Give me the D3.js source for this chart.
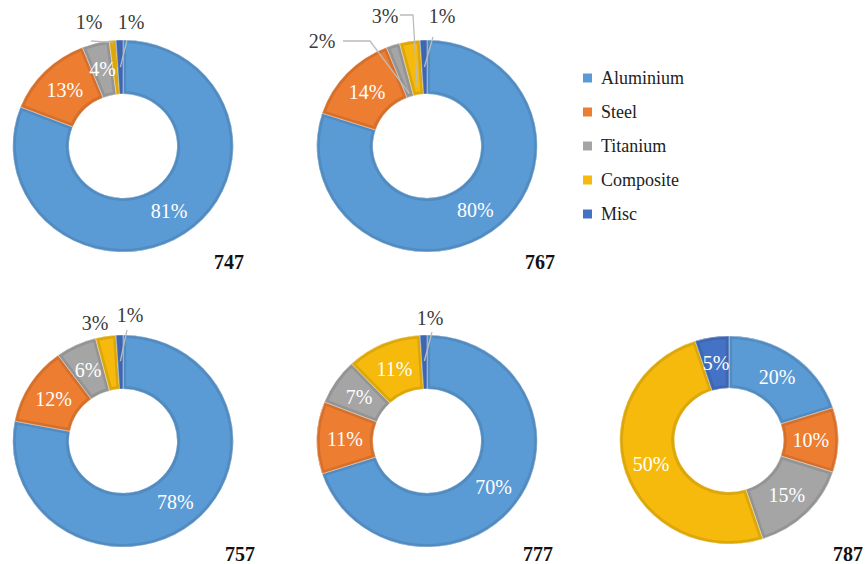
<!DOCTYPE html>
<html><head><meta charset="utf-8">
<script src="https://cdn.jsdelivr.net/npm/d3@7/dist/d3.min.js"></script>
<style>body{margin:0;background:#fff}svg{display:block}</style>
</head><body>
<svg id="c" width="867" height="564"></svg>
<script>
// ---- data ----
const categories = ["Aluminium", "Steel", "Titanium", "Composite", "Misc"];
const planes = ["747", "767", "757", "777", "787"];
const values747 = [81, 13, 4, 1, 1];
const values767 = [80, 14, 2, 3, 1];
const values757 = [78, 12, 6, 3, 1];
const values777 = [70, 11, 7, 11, 1];
const values787 = [20, 10, 15, 50, 5];
const seriesValues = [values747, values767, values757, values777, values787];
const colors = ["#5B9BD5", "#ED7D31", "#A5A5A5", "#F5BA0C", "#4472C4"];

// ---- layout (positions only) ----
const layout = [
  {cx:123, cy:146, ro:106, ri:52, sx:1.04, tx:229, ty:269,
   outside:{3:{x:-34,y:-117,lx:-32,ly:-105,r:104}, 4:{x:8,y:-117,lx:4,ly:-106,r:79}}},
  {cx:427, cy:146, ro:106, ri:52, sx:1.04, tx:540, ty:269,
   outside:{2:{x:-105,y:-98,lx:-84,ly:-105,elbow:[-57,-105],r:55}, 3:{x:-42,y:-123,lx:-27,ly:-131,elbow:[-14,-131],r:60}, 4:{x:15,y:-123,lx:6,ly:-109,r:79}}},
  {cx:123, cy:441, ro:106, ri:52, sx:1.04, tx:240, ty:561,
   outside:{3:{x:-28,y:-111}, 4:{x:7,y:-119,lx:4,ly:-111,r:80}}},
  {cx:427, cy:441, ro:106, ri:52, sx:1.04, tx:538, ty:561,
   outside:{4:{x:3,y:-116,lx:5,ly:-109,r:80}}},
  {cx:729, cy:440, ro:104, ri:52, sx:1.05, tx:848, ty:561, outside:{}}
];

const svg = d3.select("#c");
const defs = svg.append("defs");
const pie = d3.pie().sort(null).value(d => d);
const serif = "'Liberation Serif','Times New Roman',serif";

planes.forEach((p, k) => {
  const L = layout[k];
  const g = svg.append("g").attr("transform", `translate(${L.cx},${L.cy})`);
  const ga = g.append("g").attr("transform", `scale(${L.sx},1)`);
  const arc = d3.arc().innerRadius(L.ri).outerRadius(L.ro);
  const arcs = pie(seriesValues[k]);
  arcs.forEach((d, i) => {
    const id = `clip${k}_${i}`;
    defs.append("clipPath").attr("id", id).append("path").attr("d", arc(d));
    ga.append("path").attr("d", arc(d)).attr("fill", colors[i]);
    ga.append("path").attr("d", arc(d))
      .attr("fill", "none")
      .attr("stroke", d3.color(colors[i]).darker(0.3))
      .attr("stroke-width", 6)
      .attr("stroke-linejoin", "round")
      .attr("clip-path", `url(#${id})`);
    ga.append("path").attr("d", arc(d))
      .attr("fill", "none")
      .attr("stroke", "#fff").attr("stroke-opacity", 0.55).attr("stroke-width", 0.7);
  });

  const mid = (L.ri + L.ro) / 2;
  const labArc = d3.arc().innerRadius(mid).outerRadius(mid);
  arcs.forEach((d, i) => {
    const txt = seriesValues[k][i] + "%";
    const o = L.outside[i];
    if (o) {
      if (o.lx !== undefined) {
        const ea = d3.arc().innerRadius(o.r).outerRadius(o.r).centroid(d);
        const pts = [[o.lx, o.ly]];
        if (o.elbow) pts.push(o.elbow);
        pts.push([ea[0] * L.sx, ea[1]]);
        g.append("path").attr("d", d3.line()(pts))
          .attr("fill", "none").attr("stroke", "#bcbcbc").attr("stroke-width", 1.3);
      }
      g.append("text").attr("x", o.x).attr("y", o.y)
        .attr("text-anchor", "middle")
        .style("font-family", serif).style("font-size", "20px")
        .attr("fill", "#3a3a3a").text(txt);
    } else {
      const c = labArc.centroid(d);
      g.append("text").attr("x", c[0] * L.sx).attr("y", c[1])
        .attr("text-anchor", "middle").attr("dy", "0.35em")
        .style("font-family", serif).style("font-size", "20px")
        .attr("fill", "#fff").text(txt);
    }
  });

  svg.append("text").attr("x", L.tx).attr("y", L.ty)
    .attr("text-anchor", "middle")
    .style("font-family", serif).style("font-size", "20px").style("font-weight", "bold")
    .attr("fill", "#111").text(p);
});

// legend
const lg = svg.append("g").attr("transform", "translate(583,78)");
const yL = d3.scalePoint().domain(categories).range([0, 136]);
categories.forEach((c, i) => {
  lg.append("rect").attr("x", 0).attr("y", yL(c) - 4.5).attr("width", 9).attr("height", 9).attr("fill", colors[i]);
  lg.append("text").attr("x", 18).attr("y", yL(c)).attr("dy", "0.35em")
    .style("font-family", serif).style("font-size", "18px").attr("fill", "#222").text(c);
});
</script>
</body></html>
